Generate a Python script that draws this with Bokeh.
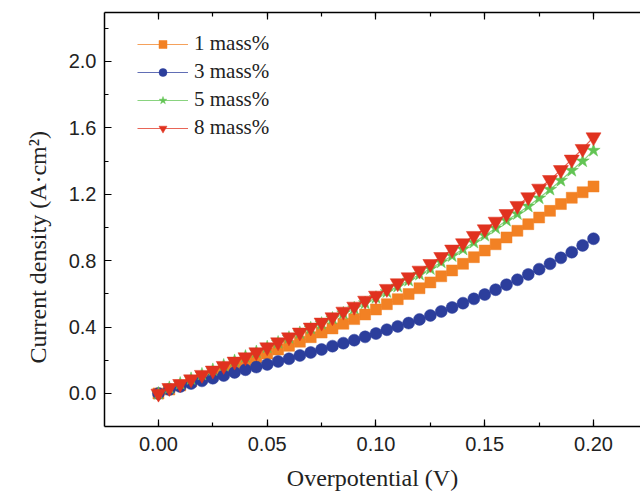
from bokeh.plotting import figure
from bokeh.models import (LinearAxis, SingleIntervalTicker, Legend, LegendItem, Range1d,
                          NumeralTickFormatter, CustomJSTickFormatter, Title)
from bokeh.embed import file_html
from bokeh.resources import INLINE

overpotential = [round(i * 0.005, 3) for i in range(41)]

mass1 = [0.0, 0.024, 0.048, 0.072, 0.096, 0.119, 0.143, 0.167, 0.191, 0.215,
         0.241, 0.265, 0.287, 0.312, 0.339, 0.367, 0.392, 0.420, 0.448, 0.476,
         0.506, 0.538, 0.568, 0.599, 0.634, 0.669, 0.706, 0.741, 0.781, 0.821,
         0.861, 0.899, 0.940, 0.980, 1.020, 1.060, 1.100, 1.141, 1.179, 1.212, 1.247]
mass3 = [0.0, 0.024, 0.042, 0.060, 0.076, 0.092, 0.108, 0.127, 0.143, 0.159,
         0.175, 0.193, 0.209, 0.229, 0.247, 0.265, 0.285, 0.303, 0.321, 0.341,
         0.361, 0.384, 0.404, 0.424, 0.446, 0.470, 0.494, 0.518, 0.544, 0.570,
         0.596, 0.625, 0.655, 0.685, 0.717, 0.749, 0.781, 0.817, 0.851, 0.892, 0.932]
mass5 = [0.0, 0.034, 0.060, 0.088, 0.115, 0.142, 0.169, 0.196, 0.222, 0.250,
         0.279, 0.307, 0.336, 0.365, 0.393, 0.421, 0.452, 0.483, 0.513, 0.545,
         0.577, 0.612, 0.645, 0.681, 0.717, 0.751, 0.791, 0.829, 0.869, 0.910,
         0.952, 0.996, 1.042, 1.082, 1.128, 1.177, 1.229, 1.283, 1.343, 1.400, 1.464]
mass8 = [0.0, 0.034, 0.058, 0.086, 0.113, 0.139, 0.167, 0.193, 0.219, 0.249,
         0.279, 0.309, 0.339, 0.368, 0.398, 0.428, 0.460, 0.494, 0.524, 0.560,
         0.590, 0.631, 0.665, 0.701, 0.741, 0.781, 0.823, 0.868, 0.906, 0.950,
         0.990, 1.036, 1.082, 1.131, 1.183, 1.235, 1.287, 1.347, 1.410, 1.474, 1.544]

labels = ["1 mass%", "3 mass%", "5 mass%", "8 mass%"]
x_title = "Overpotential (V)"
y_title = "Current density (A·cm²)"

SERIF = "Liberation Serif"
SANS = "Liberation Sans"

p = figure(width=640, height=496, output_backend="svg", toolbar_location=None,
           x_range=Range1d(-0.0248, 0.2216), y_range=Range1d(-0.199, 2.295),
           min_border_left=104, min_border_right=0, min_border_top=12, min_border_bottom=70)
p.outline_line_color = None
p.xgrid.visible = False
p.ygrid.visible = False
p.background_fill_color = "white"
p.border_fill_color = "white"

def style_axis(ax):
    ax.axis_line_color = "black"
    ax.axis_line_width = 1.5
    ax.major_tick_in = 7
    ax.major_tick_out = 0
    ax.minor_tick_in = 4
    ax.minor_tick_out = 0
    ax.major_tick_line_color = "black"
    ax.minor_tick_line_color = "black"
    ax.major_tick_line_width = 1.2
    ax.minor_tick_line_width = 1.2
    ax.major_label_text_font = SANS
    ax.major_label_text_font_size = "20px"
    ax.major_label_text_color = "#222222"

xax = p.xaxis[0]
xax.ticker = SingleIntervalTicker(interval=0.05, num_minor_ticks=2)
xax.formatter = NumeralTickFormatter(format="0.00")
style_axis(xax)
xax.major_label_standoff = 10
xax.axis_label = x_title
xax.axis_label_text_font = SERIF
xax.axis_label_text_font_style = "normal"
xax.axis_label_text_font_size = "24px"
xax.axis_label_text_color = "#222222"
xax.axis_label_standoff = 11

yax = p.yaxis[0]
yax.ticker = SingleIntervalTicker(interval=0.4, num_minor_ticks=2)
yax.formatter = NumeralTickFormatter(format="0.0")
style_axis(yax)
yax.major_label_standoff = 8

top = LinearAxis(ticker=SingleIntervalTicker(interval=0.05, num_minor_ticks=2),
                 formatter=CustomJSTickFormatter(code="return ''"))
style_axis(top)
p.add_layout(top, "above")

yt = Title(text=y_title, align="left", offset=63, text_font=SERIF, text_font_size="24px",
           text_font_style="normal", text_color="#222222", standoff=30)
p.add_layout(yt, "left")

colors = ["#F28124", "#2C3E9C", "#62C454", "#E0321F"]
markers = ["square", "circle", "star", "inverted_triangle"]
sizes = [11, 12, 14, 15]
series = [mass1, mass3, mass5, mass8]

items = []
for lab, ys, c, m, s in zip(labels, series, colors, markers, sizes):
    ln = p.line(overpotential, ys, line_color=c, line_width=1.2, line_alpha=0.75)
    sc = p.scatter(overpotential, ys, marker=m, size=s, fill_color=c, line_color=c, line_width=0.5)
    items.append(LegendItem(label=lab, renderers=[ln, sc]))

legend = Legend(items=items, location=(33, 286))
legend.label_text_font = SERIF
legend.label_text_font_size = "21px"
legend.label_text_color = "#222222"
legend.glyph_width = 51
legend.glyph_height = 20
legend.label_height = 20
legend.spacing = 3
legend.padding = 0
legend.margin = 0
legend.label_standoff = 6
legend.border_line_color = None
legend.background_fill_alpha = 0
p.add_layout(legend)

open("out.html", "w").write(file_html(p, INLINE))
